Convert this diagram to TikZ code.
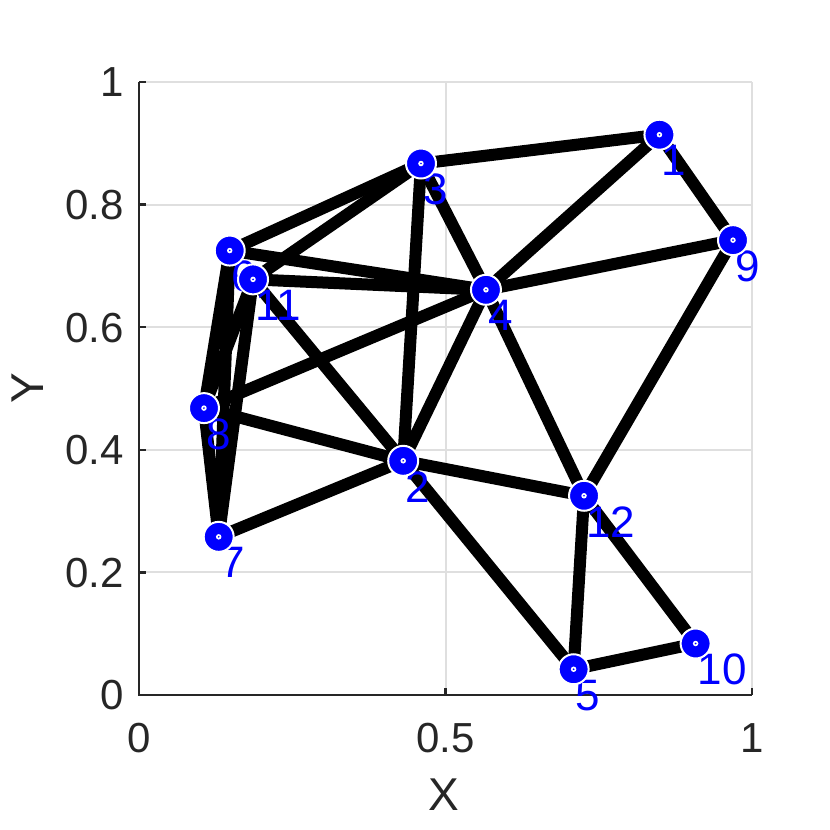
\documentclass[tikz,border=0pt]{standalone}
\usepackage{fontspec}
\setmainfont{Liberation Sans}
\definecolor{axgray}{HTML}{262626}
\definecolor{gridgray}{HTML}{DFDFDF}
\definecolor{nodeblue}{HTML}{0000FF}
\begin{document}
\begin{tikzpicture}[x=1pt,y=1pt,
  edge/.style={line width=12pt, draw=black},
  vtx/.style={circle, fill=nodeblue, draw=white, line width=2pt, minimum size=30pt, inner sep=0pt},
  vdot/.style={circle, fill=white, minimum size=5.5pt, inner sep=0pt},
  vcore/.style={circle, fill=nodeblue, minimum size=1.8pt, inner sep=0pt},
  lbl/.style={text=nodeblue, font=\fontsize{44}{52}\selectfont, inner sep=0pt, anchor=west},
  gridline/.style={draw=gridgray, line width=2pt},
  axisline/.style={draw=axgray, line width=2.4pt},
  ticklbl/.style={text=axgray, font=\fontsize{42}{50}\selectfont, inner sep=0pt},
  axlbl/.style={text=axgray, font=\fontsize{46}{54}\selectfont, inner sep=0pt}
]
\useasboundingbox (0,0) rectangle (830,830);
\fill[white] (0,0) rectangle (830,830);
\begin{scope}[x=613pt,y=613pt,shift={(139pt,135pt)}]
  % grid
  \foreach \gx in {0.5,1} \draw[gridline] (\gx,0) -- (\gx,1);
  \foreach \gy in {0.2,0.4,0.6,0.8,1} \draw[gridline] (0,\gy) -- (1,\gy);
  % axes
  \coordinate (o) at (0,0);
  \coordinate (xe) at (1,0);
  \coordinate (ye) at (0,1);
  \draw[axisline] (ye) -- (o) -- (xe);
  \foreach \gx in {0,0.5,1} \draw[axisline] (\gx,0) -- ++(0,7pt);
  \foreach \gy in {0,0.2,0.4,0.6,0.8,1} \draw[axisline] (0,\gy) -- ++(7pt,0);
  % tick labels
  \foreach \gy/\t in {0/0,0.2/0.2,0.4/0.4,0.6/0.6,0.8/0.8,1/1}
    \node[ticklbl, anchor=base east] (yt\gy) at ([xshift=-15pt,yshift=-15pt]0,\gy) {\t};
  \foreach \gx/\t in {0/0,0.5/0.5,1/1}
    \node[ticklbl, anchor=base] (xt\gx) at ([yshift=-58pt]\gx,0) {\t};
  % vertex positions
  \coordinate (p1) at (0.849,0.914);
  \coordinate (p2) at (0.431,0.382);
  \coordinate (p3) at (0.460,0.867);
  \coordinate (p4) at (0.566,0.661);
  \coordinate (p5) at (0.709,0.042);
  \coordinate (p6) at (0.148,0.725);
  \coordinate (p7) at (0.130,0.258);
  \coordinate (p8) at (0.106,0.468);
  \coordinate (p9) at (0.969,0.742);
  \coordinate (p10) at (0.908,0.084);
  \coordinate (p11) at (0.186,0.678);
  \coordinate (p12) at (0.726,0.325);
\end{scope}
% axis labels
\node[axlbl] (xlab) at (444,35) {X};
\node[axlbl, rotate=90] (ylab) at (28,442) {Y};
% edges
\foreach \a/\b in {1/3,1/4,1/9,3/6,3/11,3/4,3/2,6/4,11/4,9/4,8/4,4/2,4/12,9/12,6/8,6/7,11/8,11/7,11/2,8/2,8/7,7/2,2/12,2/5,12/5,12/10,5/10}
  \draw[edge] (p\a) -- (p\b);
% vertex labels
\foreach \i in {1,...,12}
  \node[lbl] (l\i) at ([xshift=2pt,yshift=-26pt]p\i) {\i};
% vertices
\foreach \i in {1,...,12} {
  \node[vtx] (v\i) at (p\i) {};
  \node[vdot] (d\i) at (p\i) {};
  \node[vcore] (c\i) at (p\i) {};
}
\end{tikzpicture}
\end{document}
